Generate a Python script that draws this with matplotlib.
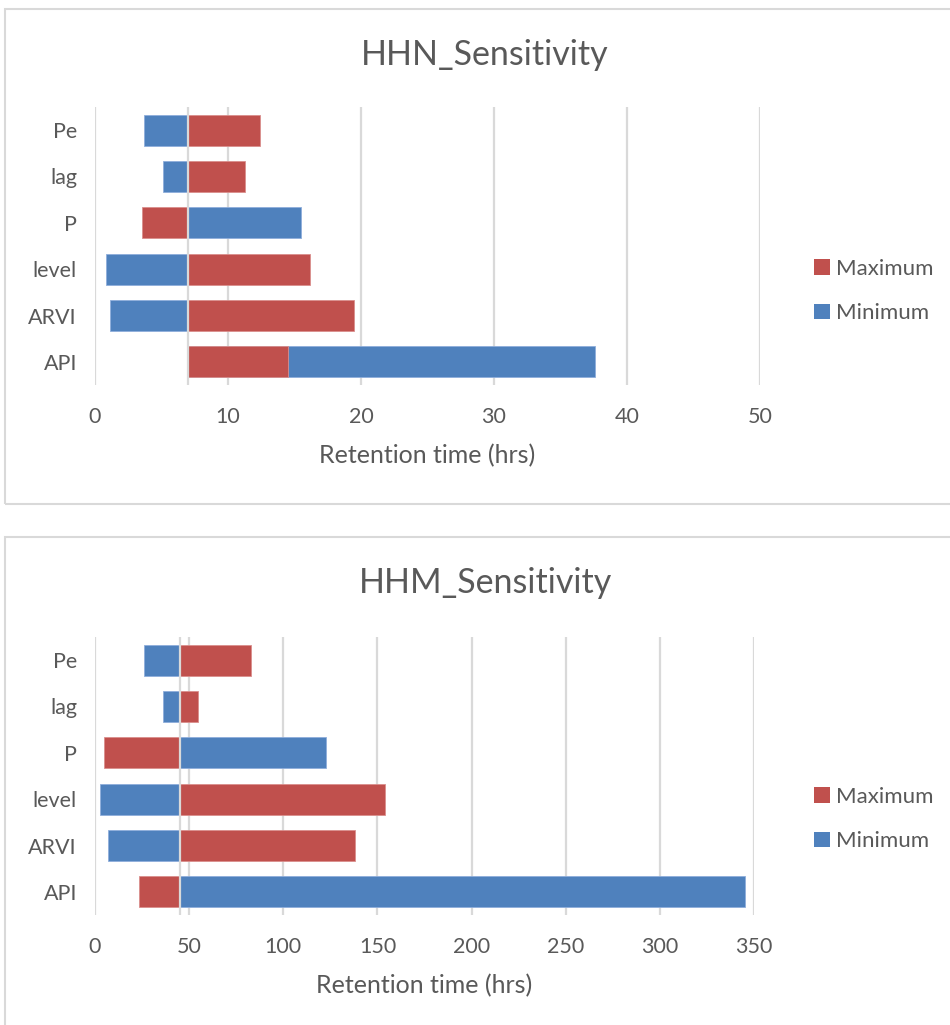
# Tornado-style sensitivity charts for HHN and HHM retention time
import matplotlib
matplotlib.use("Agg")
import matplotlib.pyplot as plt
from matplotlib.patches import Rectangle, Patch

plt.rcParams.update({
    "font.family": ["Lato", "DejaVu Sans"],
    "font.size": 14,
    "text.color": "#595959",
})

# Parameters, listed bottom to top
categories = ["API", "ARVI", "level", "P", "lag", "Pe"]

# HHN retention time (hrs)
hhn_base = 7.0
hhn_maximum = [14.5, 19.5, 16.2, 3.5, 11.3, 12.4]
hhn_minimum = [37.6, 1.1, 0.8, 15.5, 5.1, 3.7]
hhn_ticks = [0, 10, 20, 30, 40, 50]

# HHM retention time (hrs)
hhm_base = 45.0
hhm_maximum = [23.3, 138.0, 153.9, 5.0, 54.6, 82.7]
hhm_minimum = [345.4, 7.1, 2.4, 122.6, 36.1, 26.1]
hhm_ticks = [0, 50, 100, 150, 200, 250, 300, 350]

RED = "#C0504D"
BLUE = "#4F81BD"
GRID = "#D9D9D9"
TEXT = "#595959"

W, H = 950, 1025
fig = plt.figure(figsize=(W / 100, H / 100), dpi=100)


def px_box(x0, y0, x1, y1):
    """Pixel box (top-left origin) -> figure fraction [l, b, w, h]."""
    return [x0 / W, 1 - y1 / H, (x1 - x0) / W, (y1 - y0) / H]


def draw_panel(frame, plot, title, base, maxima, minima, ticks, title_y, legend_y):
    # chart frame
    l, b, w, h = px_box(*frame)
    fig.patches.append(Rectangle((l, b), w, h, transform=fig.transFigure,
                                 fill=False, edgecolor=GRID, linewidth=1.5))

    ax = fig.add_axes(px_box(*plot))
    y = range(len(categories))
    ax.barh(y, [v - base for v in minima], left=base, height=0.667,
            color=BLUE, edgecolor="#8FAEDB", linewidth=0.6, zorder=2)
    ax.barh(y, [v - base for v in maxima], left=base, height=0.667,
            color=RED, edgecolor="#DA8F8D", linewidth=0.6, zorder=2)
    ax.axvline(base, color=GRID, linewidth=1.6, zorder=3)

    ax.set_xlim(ticks[0], ticks[-1])
    ax.set_ylim(-0.5, len(categories) - 0.5)
    ax.set_xticks(ticks)
    ax.set_yticks(list(y))
    ax.set_yticklabels(categories)
    ax.grid(axis="x", color=GRID, linewidth=1.6, zorder=0)
    ax.set_axisbelow(True)
    for s in ax.spines.values():
        s.set_visible(False)
    ax.tick_params(length=0, labelcolor=TEXT, labelsize=15.5)
    ax.tick_params(axis="x", pad=16)
    ax.tick_params(axis="y", pad=13)
    ax.set_xlabel("Retention time (hrs)", fontsize=18, color=TEXT, labelpad=12)

    fig.text(485 / W, 1 - title_y / H, title, ha="center", va="center",
             fontsize=24.5, color=TEXT)

    handles = [Patch(facecolor=RED, label="Maximum"),
               Patch(facecolor=BLUE, label="Minimum")]
    fig.legend(handles=handles, loc="center left",
               bbox_to_anchor=(794 / W, 1 - legend_y / H), frameon=False,
               fontsize=16, handlelength=0.7, handleheight=0.7,
               handletextpad=0.3, labelspacing=1.12, labelcolor=TEXT)
    return ax


draw_panel((5, 9, 960, 504), (95, 107, 760, 385), "HHN_Sensitivity",
           hhn_base, hhn_maximum, hhn_minimum, hhn_ticks, 55, 291)
draw_panel((5, 537, 960, 1040), (95, 637, 754, 915), "HHM_Sensitivity",
           hhm_base, hhm_maximum, hhm_minimum, hhm_ticks, 583, 819)

fig.savefig("out.png", dpi=100)
